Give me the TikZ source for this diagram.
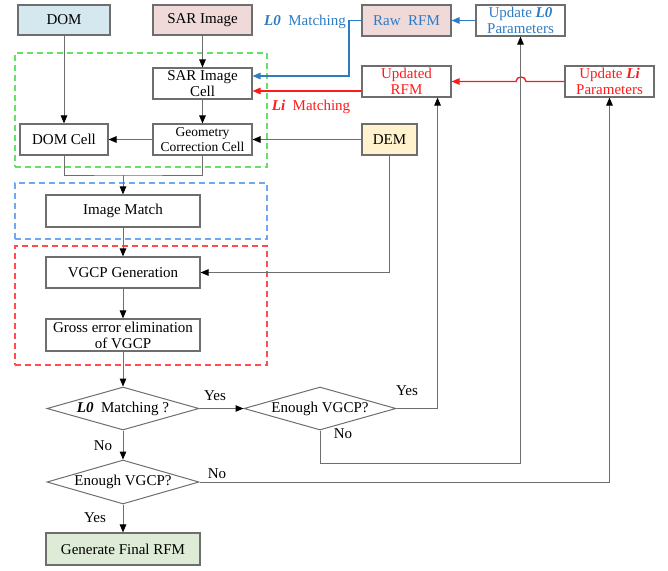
\documentclass[tikz,border=0pt]{standalone}
\usepackage{fontspec}
\setmainfont{Liberation Serif}
\usetikzlibrary{arrows.meta,shapes.geometric}
\definecolor{edge}{HTML}{6E6E6E}
\definecolor{lblue}{HTML}{2E7BC4}
\definecolor{lred}{HTML}{FF1A1A}
\definecolor{fdom}{HTML}{D5E7EF}
\definecolor{fsar}{HTML}{EFD9D9}
\definecolor{fdem}{HTML}{FFF2CC}
\definecolor{ffin}{HTML}{DDEBD7}
\definecolor{dgreen}{HTML}{66E066}
\definecolor{dblue}{HTML}{6FA8F0}
\definecolor{dred}{HTML}{FF4D4D}
\tikzset{
  box/.style={draw=edge, line width=1.1pt, inner sep=0pt, align=center,
    font=\fontsize{15}{17}\selectfont},
  dec/.style={draw=edge, line width=1pt, shape=diamond, aspect=3.5, inner sep=0pt,
    minimum width=152pt, minimum height=43pt, font=\fontsize{15}{17}\selectfont},
  frame/.style={line width=1.2pt, dash pattern=on 6pt off 4pt, inner sep=0pt},
  conn/.style={draw=edge, line width=1pt, -{Triangle[length=8pt,width=6.5pt,color=black]}},
  line/.style={draw=edge, line width=1pt},
  bconn/.style={draw=lblue, line width=1.4pt, -{Triangle[length=8pt,width=6.5pt,color=lblue]}},
  rconn/.style={draw=lred, line width=1.4pt, -{Triangle[length=8pt,width=6.5pt,color=lred]}},
  lab/.style={font=\fontsize{15}{17}\selectfont, inner sep=0pt},
}
\newcommand{\Lz}{\textbf{\textit{L0}}}
\newcommand{\Li}{\textbf{\textit{Li}}}
\begin{document}
\begin{tikzpicture}[x=1pt,y=-1pt]
\useasboundingbox (0,0) rectangle (668,570);
% frames
\node[frame, draw=dgreen, minimum width=252pt, minimum height=114pt] (gframe) at (141,110) {};
\node[frame, draw=dblue, minimum width=252pt, minimum height=56pt] (bframe) at (141,211) {};
\node[frame, draw=dred, minimum width=252pt, minimum height=119pt] (rframe) at (141,305.5) {};
% boxes
\node[box, fill=fdom, minimum width=92pt, minimum height=30pt] (dom) at (64,20) {DOM};
\node[box, fill=fsar, minimum width=99pt, minimum height=30pt] (sar) at (202.5,20) {SAR Image};
\node[box, minimum width=99pt, minimum height=31pt, font=\fontsize{15}{16}\selectfont] (sarcell) at (202.5,83.5) {SAR Image\\Cell};
\node[box, minimum width=88pt, minimum height=31pt] (domcell) at (64,139.5) {DOM Cell};
\node[box, minimum width=99pt, minimum height=31pt, font=\fontsize{13.5}{15.5}\selectfont] (geo) at (202.5,139.5) {Geometry\\Correction Cell};
\node[box, minimum width=154pt, minimum height=32pt] (imgm) at (123,211) {Image Match};
\node[box, minimum width=154pt, minimum height=31pt] (vgcp) at (123,272.5) {VGCP Generation};
\node[box, minimum width=154pt, minimum height=32pt, font=\fontsize{15}{16}\selectfont] (gross) at (123,335) {Gross error elimination\\of VGCP};
\node[dec] (lzero) at (123,408.5) {\Lz\ \ Matching ?};
\node[dec] (enA) at (320,408.5) {Enough VGCP?};
\node[dec, minimum height=44pt] (enB) at (123,482) {Enough VGCP?};
\node[box, fill=ffin, minimum width=154pt, minimum height=32pt] (final) at (123,549) {Generate Final RFM};
\node[box, fill=fsar, text=lblue, minimum width=89pt, minimum height=31pt] (raw) at (406.5,20.5) {Raw\ \ RFM};
\node[box, text=lblue, minimum width=89pt, minimum height=31pt, font=\fontsize{15}{16}\selectfont] (updz) at (520.5,20.5) {Update \Lz\\Parameters};
\node[box, text=lred, minimum width=89pt, minimum height=31pt, font=\fontsize{15}{16}\selectfont] (updrfm) at (406.5,81.5) {Updated\\RFM};
\node[box, text=lred, minimum width=89pt, minimum height=31pt, font=\fontsize{15}{16}\selectfont] (updi) at (609.5,81.5) {Update \Li\\Parameters};
\node[box, fill=fdem, minimum width=55pt, minimum height=31pt] (dem) at (389.5,139.5) {DEM};
% labels
\node[lab, text=lblue] (lzlab) at (305,22) {\Lz\ \ Matching};
\node[lab, text=lred] (lilab) at (311,107) {\Li\ \ Matching};
\node[lab] (y1) at (215,396) {Yes};
\node[lab] (y2) at (407,391) {Yes};
\node[lab] (n1) at (343,434) {No};
\node[lab] (n2) at (103,446) {No};
\node[lab] (n3) at (217,474) {No};
\node[lab] (y3) at (95,518) {Yes};
% coordinates
\coordinate (jn) at (123,175);
\coordinate (bb) at (349,76);
\coordinate (rr) at (349,91);
% connectors
\draw[conn] (dom) -- (domcell);
\draw[conn] (sar) -- (sarcell);
\draw[conn] (sarcell) -- (geo);
\draw[conn] (geo) -- (domcell);
\draw[conn] (dem) -- (geo);
\draw[line] (domcell.south) |- (jn) -| (geo.south);
\draw[conn] (jn) -- (imgm);
\draw[conn] (imgm) -- (vgcp);
\draw[conn] (vgcp) -- (gross);
\draw[conn] (gross) -- (lzero);
\draw[conn] (dem.south) |- (vgcp.east);
\draw[bconn] (raw.west) -| (bb) -- (sarcell.east |- bb);
\draw[rconn] (updrfm.west |- rr) -- (sarcell.east |- rr);
\draw[bconn] (updz) -- (raw);
\draw[rconn] (updi.west) -- (526,81.5) .. controls (526,75.5) and (516,75.5) .. (516,81.5) -- (updrfm.east);
\draw[conn] (lzero) -- (enA);
\draw[conn] (enA.east) -| ([xshift=-14pt]updrfm.south east);
\draw[conn] (enA.south) -- ++(0,32.5) -| (updz.south);
\draw[conn] (lzero) -- (enB);
\draw[conn] (enB.east) -| (updi.south);
\draw[conn] (enB) -- (final);
\end{tikzpicture}
\end{document}
